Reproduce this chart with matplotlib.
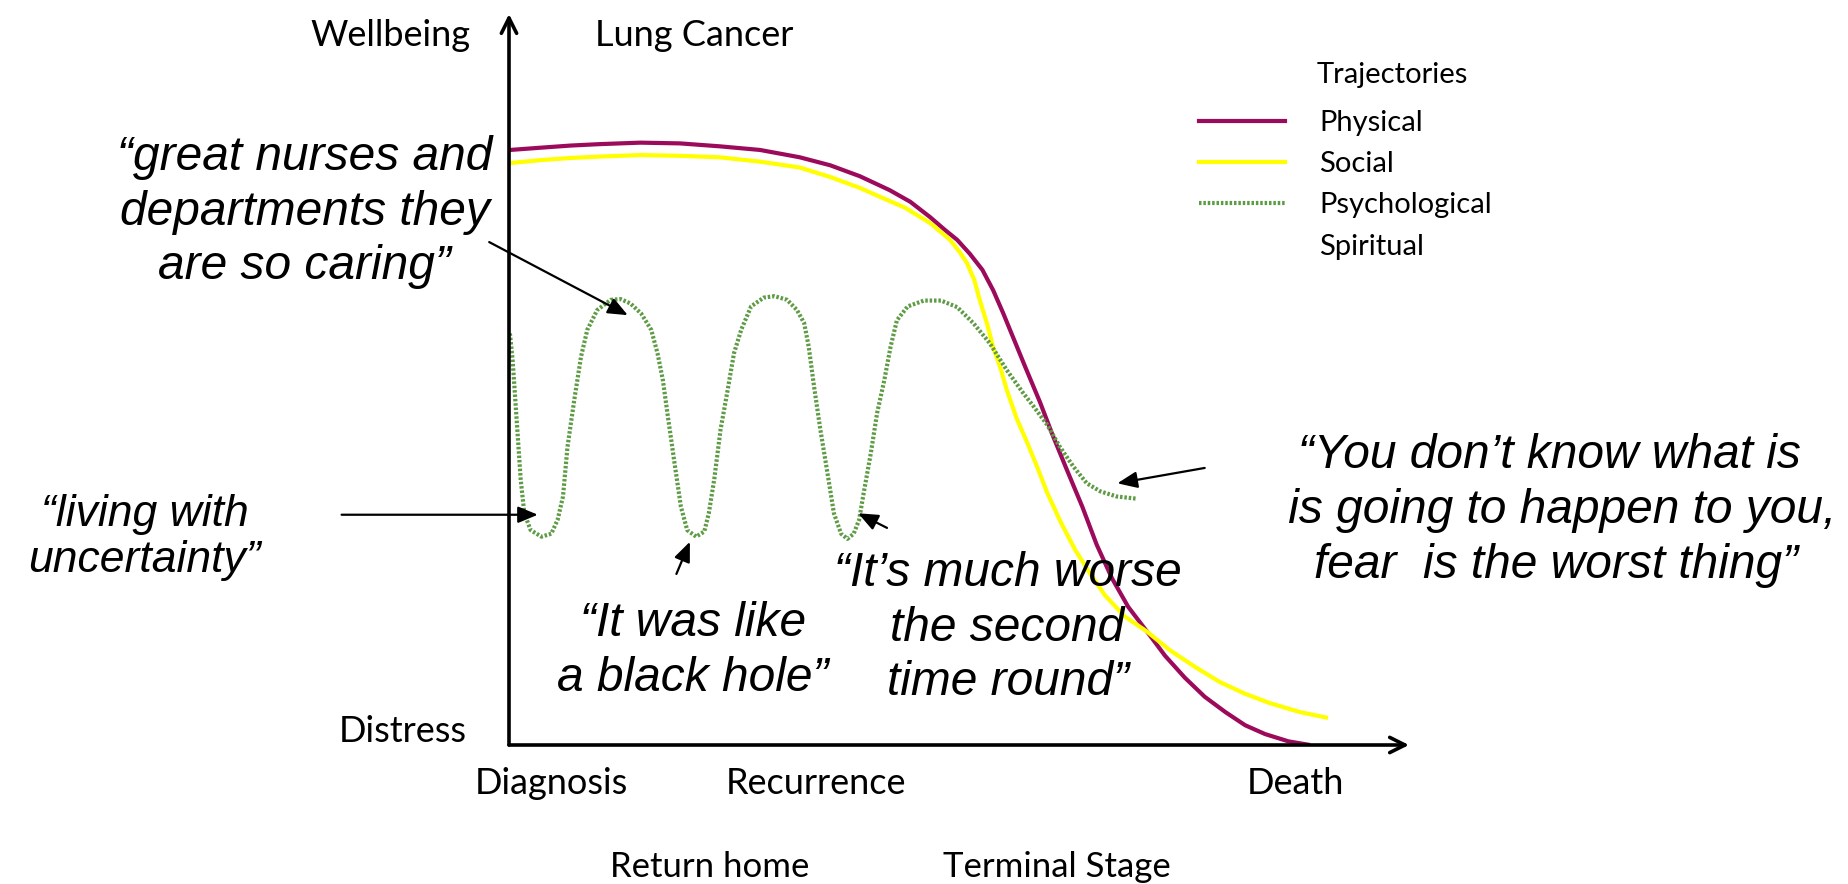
import matplotlib
matplotlib.use('Agg')
import matplotlib.pyplot as plt
from matplotlib.lines import Line2D

# wellbeing trajectories (x: time 0..100, y: wellbeing 0..100)
physical_x = [0.1, 3.4, 6.8, 10.1, 14.6, 19.0, 23.4, 27.9, 32.3, 35.7, 39.0, 42.3, 44.6, 46.8,
              48.4, 49.8, 51.2, 52.6, 53.8, 54.9, 56.0, 57.4, 59.0, 60.4, 62.0, 63.7, 65.3, 67.0,
              68.8, 70.9, 72.9, 75.1, 77.3, 79.6, 81.8, 84.0, 86.6, 89.0]
physical_y = [81.4, 81.7, 82.0, 82.2, 82.4, 82.3, 81.9, 81.4, 80.4, 79.3, 77.8, 75.9, 74.3, 72.2,
              70.5, 69.1, 67.2, 65.0, 62.2, 59.1, 55.8, 51.6, 46.9, 42.4, 37.6, 32.6, 27.4, 22.8,
              18.9, 15.5, 12.2, 9.2, 6.6, 4.5, 2.7, 1.5, 0.5, 0.0]

social_x = [0.1, 3.4, 6.8, 10.1, 14.6, 19.0, 23.4, 27.9, 32.3, 35.7, 39.0, 41.2, 44.0, 46.8,
            49.0, 50.1, 50.9, 51.7, 52.3, 53.1, 53.8, 54.6, 55.3, 56.4, 57.6, 58.7, 59.8, 61.3,
            62.9, 64.6, 66.2, 68.4, 70.9, 73.4, 76.2, 79.0, 81.8, 84.6, 87.9, 91.0]
social_y = [79.6, 80.0, 80.3, 80.5, 80.7, 80.6, 80.4, 79.8, 79.0, 77.7, 76.2, 75.0, 73.5, 71.4,
            69.1, 67.4, 65.9, 63.6, 60.9, 57.7, 54.4, 51.6, 48.6, 44.7, 41.3, 38.0, 34.5, 30.5,
            26.7, 23.4, 20.5, 17.6, 15.5, 13.0, 10.7, 8.6, 7.0, 5.7, 4.5, 3.7]

psych_x = [0.1, 0.4, 0.8, 1.3, 1.7, 2.4, 3.6, 4.7, 5.4, 6.0, 6.5, 7.3, 8.0, 8.7, 9.8, 11.3, 12.4,
           13.5, 14.7, 15.8, 16.5, 17.1, 17.6, 18.4, 19.1, 19.8, 20.8, 21.7, 22.2, 22.8, 23.5,
           24.3, 25.0, 25.8, 26.9, 28.3, 29.5, 30.9, 32.0, 32.8, 33.3, 33.9, 34.6, 35.4, 36.1,
           36.9, 37.6, 38.3, 38.9, 39.4, 40.2, 40.9, 41.7, 42.4, 43.1, 44.3, 46.1, 48.0, 49.8,
           51.6, 53.4, 55.3, 57.1, 58.3, 59.8, 61.2, 62.7, 64.2, 65.7, 67.5, 69.7]
psych_y = [56.3, 52.7, 45.4, 36.3, 31.7, 29.4, 28.5, 28.9, 30.8, 34.0, 40.8, 47.6, 53.1, 56.8,
           59.5, 60.9, 61.0, 60.4, 59.0, 56.8, 53.6, 49.9, 45.4, 38.5, 32.6, 29.4, 28.5, 29.2,
           31.7, 36.3, 43.1, 48.6, 53.6, 56.8, 60.0, 61.2, 61.4, 60.9, 59.5, 57.7, 54.5, 49.0,
           43.1, 37.1, 31.7, 28.9, 28.2, 28.9, 30.8, 34.4, 39.9, 45.4, 49.9, 54.5, 58.1, 60.0,
           60.8, 60.8, 59.9, 57.7, 55.0, 51.3, 48.2, 46.3, 43.8, 40.8, 38.1, 35.8, 34.7, 34.0, 33.7]

series_names = ['Physical', 'Social', 'Psychological', 'Spiritual']

events_top = ['Diagnosis', 'Recurrence', 'Death']
events_top_x = [4.7, 34.1, 87.4]
events_bottom = ['Return home', 'Terminal Stage']
events_bottom_x = [22.3, 60.9]

quotes = ['\u201cgreat nurses and\ndepartments they\nare so caring\u201d',
          '\u201cliving with\nuncertainty\u201d',
          '\u201cIt was like\na black hole\u201d',
          '\u201cIt\u2019s much worse\nthe second\ntime round\u201d',
          '\u201cYou don\u2019t know what is \n is going to happen to you,\nfear  is the worst thing\u201d']
quote_pos = [(-22.7, 72.9), (-40.5, 28.4), (20.4, 12.9), (55.4, 16.0), (116.3, 32.1)]
quote_size = [34.5, 32, 34.5, 34.5, 34.5]
quote_spacing = [1.28, 1.14, 1.28, 1.28, 1.28]
# arrow (tail, tip) for each quote
quote_arrows = [((-2.2, 68.8), (13.2, 58.8)),
                ((-18.6, 31.5), (3.2, 31.5)),
                ((18.6, 23.4), (20.1, 27.8)),
                ((42.0, 29.7), (38.8, 31.7)),
                ((77.3, 37.9), (67.6, 35.8))]

c_phys = '#9c0b5b'
c_soc = '#ffff00'
c_psy = '#5e9b45'
label_font = 'Lato'
quote_font = 'Liberation Sans'

fig = plt.figure(figsize=(18.49, 8.84), dpi=100)
ax = fig.add_axes([509 / 1849, 1 - 745 / 884, 900 / 1849, 731 / 884])
ax.set_xlim(0, 100)
ax.set_ylim(0, 100)
ax.axis('off')

ax.plot(physical_x, physical_y, color=c_phys, lw=3.0, solid_capstyle='butt', solid_joinstyle='round')
ax.plot(social_x, social_y, color=c_soc, lw=3.0, solid_capstyle='butt', solid_joinstyle='round')
ax.plot(psych_x, psych_y, color=c_psy, lw=3.0, linestyle=(0, (0.6, 0.45)), dash_capstyle='butt')

# axes with arrow heads
for end in [(0, 1), (1, 0)]:
    ax.annotate('', xy=end, xytext=(0, 0), xycoords='axes fraction',
                arrowprops=dict(arrowstyle='->,head_length=0.5,head_width=0.25', lw=2.6,
                                color='black', shrinkA=0, shrinkB=0, mutation_scale=22))

ax.text(-13.2, 97.1, 'Wellbeing', family=label_font, fontsize=26, ha='center', va='center')
ax.text(20.6, 97.1, 'Lung Cancer', family=label_font, fontsize=26, ha='center', va='center')
ax.text(-11.8, 1.9, 'Distress', family=label_font, fontsize=26, ha='center', va='center')
for lab, x in zip(events_top, events_top_x):
    ax.text(x, -5.3, lab, family=label_font, fontsize=26, ha='center', va='center', clip_on=False)
for lab, x in zip(events_bottom, events_bottom_x):
    ax.text(x, -16.7, lab, family=label_font, fontsize=25, ha='center', va='center', clip_on=False)

for q, (x, y), fs, ls in zip(quotes, quote_pos, quote_size, quote_spacing):
    ax.text(x, y, q, family=quote_font, style='italic', fontsize=fs, ha='center', va='center',
            linespacing=ls, clip_on=False)
for tail, tip in quote_arrows:
    ax.annotate('', xy=tip, xytext=tail, xycoords='data',
                arrowprops=dict(arrowstyle='-|>,head_length=0.6,head_width=0.25', lw=1.6,
                                color='black', shrinkA=0, shrinkB=0, mutation_scale=20))

# legend
handles = [Line2D([], [], color=c_phys, lw=3.0),
           Line2D([], [], color=c_soc, lw=3.0),
           Line2D([], [], color=c_psy, lw=3.0, linestyle=(0, (0.6, 0.45))),
           Line2D([], [], color='none')]
fig.text(1317 / 1849, 1 - 75 / 884, 'Trajectories', family=label_font, fontsize=21, va='center')
fig.legend(handles, series_names, loc='upper left', bbox_to_anchor=(1199 / 1849, 1 - 110 / 884),
           bbox_transform=fig.transFigure, frameon=False, prop={'family': label_font, 'size': 21},
           handlelength=2.95, handletextpad=1.17, labelspacing=0.52, borderpad=0, borderaxespad=0)

fig.savefig('out.png', dpi=100)
